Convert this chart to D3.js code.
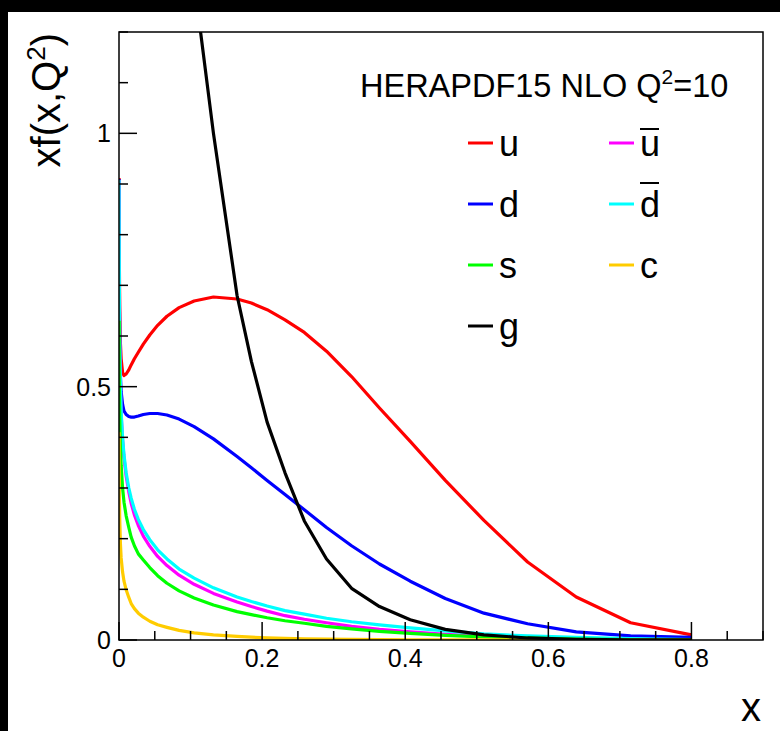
<!DOCTYPE html>
<html><head><meta charset="utf-8">
<script src="https://cdn.jsdelivr.net/npm/d3@7"></script>
<style>
html,body{margin:0;padding:0;background:#fff;}
svg{display:block;font-family:"Liberation Sans",Arial,Helvetica,sans-serif;}
</style></head>
<body><svg id="c" width="780" height="731"></svg>
<script>
// x grid
const X = [0.0001,0.0002,0.0005,0.001,0.002,0.003,0.005,0.007,0.01,0.0137,0.017,0.0215,0.027,0.034,0.043,0.054,0.067,0.084,0.105,0.132,0.165,0.185,0.207,0.232,0.259,0.29,0.325,0.364,0.407,0.456,0.51,0.571,0.639,0.715,0.8];
const U  = [0.912,0.84,0.74,0.66,0.585,0.555,0.528,0.522,0.525,0.533,0.543,0.555,0.568,0.584,0.602,0.621,0.639,0.656,0.669,0.677,0.673,0.665,0.652,0.632,0.607,0.57,0.52,0.458,0.392,0.315,0.236,0.154,0.085,0.034,0.010];
const D  = [0.91,0.80,0.66,0.58,0.52,0.49,0.465,0.452,0.445,0.441,0.44,0.44,0.442,0.445,0.447,0.447,0.444,0.436,0.421,0.397,0.362,0.34,0.315,0.287,0.257,0.222,0.186,0.150,0.116,0.082,0.053,0.032,0.016,0.008,0.005];
const UBAR = [0.908,0.83,0.70,0.60,0.50,0.445,0.395,0.36,0.323,0.292,0.27,0.247,0.226,0.205,0.185,0.165,0.147,0.128,0.11,0.092,0.075,0.066,0.057,0.048,0.041,0.034,0.027,0.021,0.016,0.011,0.007,0.004,0.002,0.001,0.0005];
const DBAR = [0.908,0.83,0.70,0.60,0.50,0.45,0.40,0.365,0.33,0.30,0.28,0.258,0.238,0.218,0.198,0.178,0.16,0.14,0.122,0.103,0.085,0.076,0.067,0.058,0.051,0.043,0.036,0.030,0.024,0.018,0.012,0.008,0.005,0.003,0.001];
const S  = [0.63,0.58,0.50,0.44,0.38,0.345,0.30,0.272,0.245,0.222,0.203,0.186,0.17,0.158,0.143,0.127,0.112,0.097,0.083,0.069,0.056,0.05,0.044,0.038,0.033,0.027,0.022,0.017,0.013,0.009,0.006,0.004,0.002,0.001,0.0005];
const C  = [0.41,0.36,0.29,0.24,0.19,0.162,0.134,0.116,0.099,0.084,0.072,0.062,0.053,0.045,0.037,0.030,0.025,0.019,0.014,0.010,0.007,0.0055,0.0043,0.0033,0.0025,0.0018,0.0012,0.0008,0.0005,0.0003,0.0002,0.0001,0,0,0];
const G  = [17,15,12.5,10,8.5,7.5,6.6,6.0,5.3,4.8,4.4,4.0,3.6,3.2,2.8,2.4,2.0,1.6,1.3,1.0,0.68,0.55,0.43,0.33,0.235,0.16,0.102,0.066,0.04,0.021,0.01,0.004,0.0015,0.0005,0.0001];

const seriesNames  = ["u","d","ubar","dbar","s","c","g"];
const seriesValues = [U, D, UBAR, DBAR, S, C, G];
const seriesColors = ["#ff0000","#0000ff","#ff00ff","#00ffff","#00ff00","#ffcc00","#000000"];

const legendNames  = ["u","ubar","d","dbar","s","c","g"];
const legendText   = ["u","u","d","d","s","c","g"];
const legendBar    = [false,true,false,true,false,false,false];
const legendTitle  = "HERAPDF15 NLO Q";

const xTicksMajor = [0,0.2,0.4,0.6,0.8];
const xTickLabels = ["0","0.2","0.4","0.6","0.8"];
const yTicksMajor = [0,0.5,1];
const yTickLabels = ["0","0.5","1"];

const W = 780, H = 731;
const L = 119, R = 763, T = 32, B = 640;
const svg = d3.select("#c");
svg.append("rect").attr("x",0).attr("y",0).attr("width",W).attr("height",12).attr("fill","#000");
svg.append("rect").attr("x",0).attr("y",0).attr("width",8).attr("height",H).attr("fill","#000");

const x = d3.scaleLinear().domain([0,0.9]).range([L,R]);
const y = d3.scaleLinear().domain([0,1.2]).range([B,T]);

svg.append("clipPath").attr("id","clip").append("rect")
  .attr("x",L).attr("y",T).attr("width",R-L).attr("height",B-T);

const line = d3.line().x((d,i)=>x(X[i])).y(d=>y(d));
const gLines = svg.append("g").attr("clip-path","url(#clip)");
seriesValues.forEach((vals,k)=>{
  gLines.append("path").datum(vals).attr("d",line)
    .attr("fill","none").attr("stroke",seriesColors[k]).attr("stroke-width",3.2)
    .attr("stroke-linejoin","round");
});

// frame
svg.append("rect").attr("x",L).attr("y",T).attr("width",R-L).attr("height",B-T)
  .attr("fill","none").attr("stroke","#000").attr("stroke-width",1.5);

// x axis ticks
const xMinor = d3.range(0,0.9001,0.05);
const gx = svg.append("g");
gx.selectAll("line").data(xMinor).enter().append("line")
  .attr("x1",d=>x(d)).attr("x2",d=>x(d)).attr("y1",B)
  .attr("y2",d=>B-(Math.abs(d/0.2-Math.round(d/0.2))<1e-6?18:9))
  .attr("stroke","#000").attr("stroke-width",1.5);
gx.selectAll("text").data(xTicksMajor).enter().append("text")
  .attr("x",d=>x(d)).attr("y",667).attr("text-anchor","middle")
  .attr("font-size",25).text((d,i)=>xTickLabels[i]);

// y axis ticks
const yMinor = d3.range(0,1.2001,0.1);
const gy = svg.append("g");
gy.selectAll("line").data(yMinor).enter().append("line")
  .attr("y1",d=>y(d)).attr("y2",d=>y(d)).attr("x1",L)
  .attr("x2",d=>L+(Math.abs(d/0.5-Math.round(d/0.5))<1e-6?18:9))
  .attr("stroke","#000").attr("stroke-width",1.5);
gy.selectAll("text").data(yTicksMajor).enter().append("text")
  .attr("x",111).attr("y",d=>y(d)+9).attr("text-anchor","end")
  .attr("font-size",25).text((d,i)=>yTickLabels[i]);

// axis titles
svg.append("text").attr("x",761).attr("y",721).attr("text-anchor","end")
  .attr("font-size",40).text("x");
const yt = svg.append("text").attr("transform","translate(60,33) rotate(-90)")
  .attr("text-anchor","end").attr("font-size",40);
yt.append("tspan").text("xf(x,Q");
yt.append("tspan").attr("font-size",26).attr("dy",-15).text("2");
yt.append("tspan").attr("dy",15).text(")");

// legend
const lt = svg.append("text").attr("x",360).attr("y",97).attr("font-size",32.5);
lt.append("tspan").text(legendTitle);
lt.append("tspan").attr("font-size",21).attr("dy",-13).text("2");
lt.append("tspan").attr("dy",13).text("=10");

const colX = [468,609];
const rowY = [143,204,265,326];
legendNames.forEach((n,i)=>{
  const col = i%2, row = Math.floor(i/2);
  const k = seriesNames.indexOf(n);
  const lx = colX[col], ly = rowY[row];
  svg.append("line").attr("x1",lx).attr("x2",lx+25).attr("y1",ly).attr("y2",ly)
    .attr("stroke",seriesColors[k]).attr("stroke-width",3);
  svg.append("text").attr("x",lx+31).attr("y",ly+13).attr("font-size",36).text(legendText[i]);
  if (legendBar[i]) {
    const top = legendText[i]==="u" ? ly-14 : ly-21;
    svg.append("line").attr("x1",lx+31).attr("x2",lx+50).attr("y1",top).attr("y2",top)
      .attr("stroke","#000").attr("stroke-width",2);
  }
});
</script></body></html>
